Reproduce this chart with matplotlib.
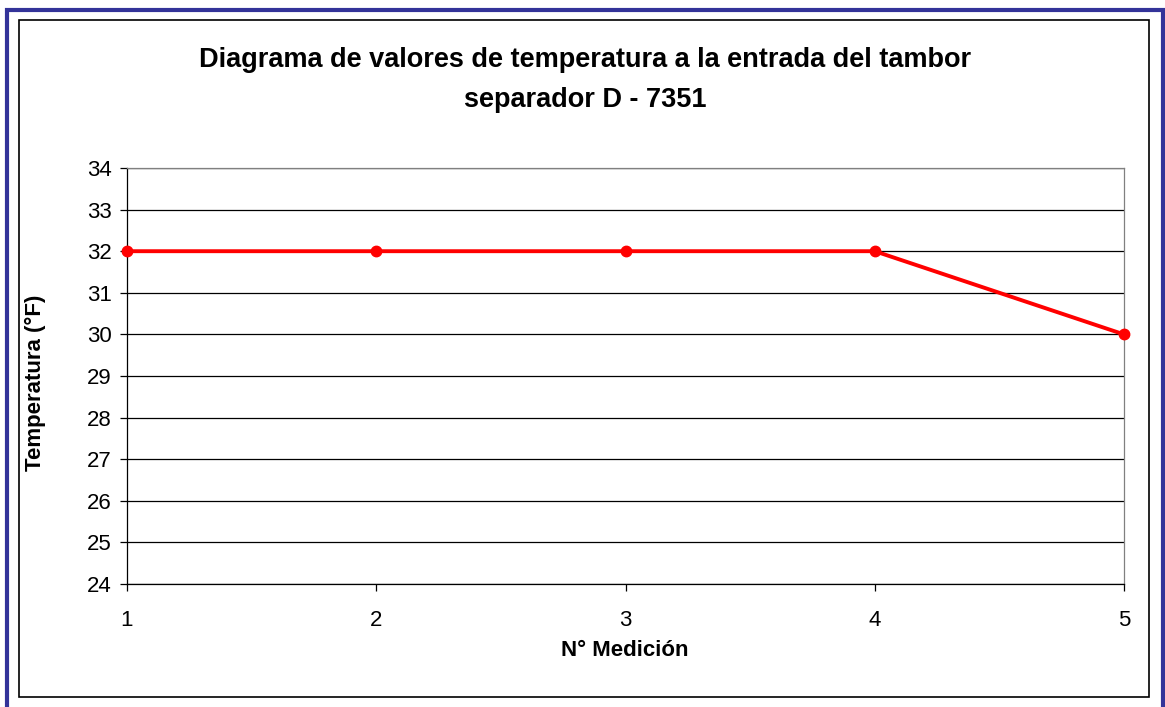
import matplotlib
matplotlib.use('Agg')
import matplotlib.pyplot as plt
from matplotlib.patches import Rectangle

plt.rcParams['font.family'] = ['Liberation Sans', 'DejaVu Sans']

mediciones = [1, 2, 3, 4, 5]
temperaturas = [32, 32, 32, 32, 30]
y_ticks = list(range(24, 35))

W, H = 1165, 707
fig = plt.figure(figsize=(W / 100, H / 100), dpi=100)

# marco azul exterior y marco negro interior
fig.patches.append(Rectangle((7 / W, -0.05), (1162.5 - 7) / W, 1.05 - 10 / H,
                             transform=fig.transFigure, fill=False,
                             edgecolor='#333399', linewidth=3.0))
fig.patches.append(Rectangle((18.5 / W, 1 - 697 / H), (1149 - 18.5) / W, (697 - 20) / H,
                             transform=fig.transFigure, fill=False,
                             edgecolor='black', linewidth=1.2))

ax = fig.add_axes([127 / W, 1 - 584 / H, (1124 - 127) / W, (584 - 168) / H])
ax.plot(mediciones, temperaturas, color='#ff0000', linewidth=2.8,
        marker='o', markersize=7.5, clip_on=False, zorder=5)

ax.set_xlim(1, 5)
ax.set_ylim(24, 34)
ax.set_xticks(mediciones)
ax.set_yticks(y_ticks)
ax.yaxis.grid(True, color='black', linewidth=0.9)
ax.set_axisbelow(True)
ax.tick_params(axis='both', direction='out', length=5, width=0.9,
               labelsize=16, pad=6)
ax.tick_params(axis='x', pad=14)

for s in ['left', 'bottom']:
    ax.spines[s].set_color('black')
    ax.spines[s].set_linewidth(0.9)
for s in ['top', 'right']:
    ax.spines[s].set_color('#808080')
    ax.spines[s].set_linewidth(0.9)

ax.set_xlabel('N° Medición', fontsize=16, fontweight='bold', va='center')
ax.set_ylabel('Temperatura (°F)', fontsize=16, fontweight='bold', va='center')
ax.xaxis.set_label_coords((625 - 127) / 997, (584 - 650) / 416)
ax.yaxis.set_label_coords((35 - 127) / 997, (584 - 383) / 416)

fig.text(585 / W, 1 - 60 / H, 'Diagrama de valores de temperatura a la entrada del tambor',
         ha='center', va='center', fontsize=19.5, fontweight='bold')
fig.text(585 / W, 1 - 100 / H, 'separador D - 7351',
         ha='center', va='center', fontsize=19.5, fontweight='bold')

fig.savefig('out.png', dpi=100)
